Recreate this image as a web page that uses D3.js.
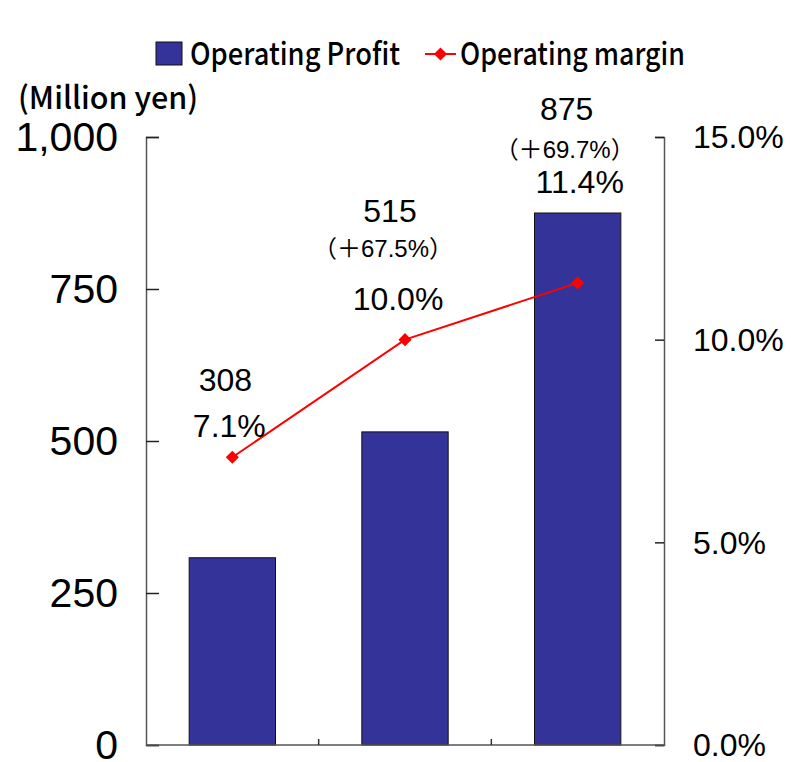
<!DOCTYPE html>
<html>
<head>
<meta charset="utf-8">
<script src="https://cdn.jsdelivr.net/npm/d3@7"></script>
<style>
  body { margin: 0; background: #fff; }
  svg text { font-family: "Liberation Sans", Arial, sans-serif; }
</style>
</head>
<body>
<div class="canva"></div>
<script>
// data
const periods = ["Period 1", "Period 2", "Period 3"];
const profit = [308, 515, 875];              // million yen
const margin = [7.1, 10.0, 11.4];            // %
const growth = [null, "67.5%", "69.7%"];     // year on year
const leftTicks = [0, 250, 500, 750, 1000];
const rightTicks = [0, 5, 10, 15];

const svg = d3.select(".canva").append("svg")
  .attr("width", 791)
  .attr("height", 762);

const plot = {left: 146, right: 664, top: 137, bottom: 745};

const x = d3.scaleBand().domain(periods)
  .range([plot.left, plot.right])
  .paddingInner(0.5).paddingOuter(0.25);
const yL = d3.scaleLinear().domain([0, 1000]).range([plot.bottom, plot.top]);
const yR = d3.scaleLinear().domain([0, 15]).range([plot.bottom, plot.top]);

// bars
svg.selectAll("rect.bar")
  .data(periods)
  .enter()
  .append("rect")
    .attr("class", "bar")
    .attr("x", d => x(d))
    .attr("width", x.bandwidth())
    .attr("y", (d, i) => yL(profit[i]))
    .attr("height", (d, i) => yL(0) - yL(profit[i]))
    .attr("fill", "#333399")
    .attr("stroke", "#111")
    .attr("stroke-width", 1);

// axes
const leftAxis = d3.axisRight(yL)
  .tickValues(leftTicks).tickSize(13).tickFormat("");
const gl = svg.append("g")
  .attr("transform", `translate(${plot.left},0)`)
  .call(leftAxis);

const rightAxis = d3.axisLeft(yR)
  .tickValues(rightTicks).tickSize(9).tickFormat("");
const gr = svg.append("g")
  .attr("transform", `translate(${plot.right},0)`)
  .call(rightAxis);

[gl, gr].forEach(g => {
  g.select(".domain").attr("stroke", "#555").attr("stroke-width", 1.5);
  g.selectAll(".tick line").attr("stroke", "#222").attr("stroke-width", 1.5);
});

// bottom axis with category boundary ticks
svg.append("line")
  .attr("x1", plot.left).attr("x2", plot.right)
  .attr("y1", plot.bottom).attr("y2", plot.bottom)
  .attr("stroke", "#555").attr("stroke-width", 1.5);
const bounds = d3.range(1, periods.length).map(i => plot.left + (plot.right - plot.left) * i / periods.length);
svg.selectAll("line.cat")
  .data(bounds)
  .enter()
  .append("line")
    .attr("class", "cat")
    .attr("x1", d => d).attr("x2", d => d)
    .attr("y1", plot.bottom).attr("y2", plot.bottom - 6)
    .attr("stroke", "#333").attr("stroke-width", 1.5);

// tick labels
svg.selectAll("text.lt")
  .data(leftTicks)
  .enter()
  .append("text")
    .attr("class", "lt")
    .attr("x", 118)
    .attr("y", d => yL(d))
    .attr("dy", "0.34em")
    .attr("text-anchor", "end")
    .attr("font-size", 41)
    .text(d => d3.format(",")(d));

svg.selectAll("text.rt")
  .data(rightTicks)
  .enter()
  .append("text")
    .attr("class", "rt")
    .attr("x", 693)
    .attr("y", d => yR(d))
    .attr("dy", "0.35em")
    .attr("font-size", 32)
    .text(d => d.toFixed(1) + "%");

// margin line
const cx = d => x(d) + x.bandwidth() / 2;
const line = d3.line()
  .x(d => cx(d))
  .y((d, i) => yR(margin[i]));
svg.append("path")
  .datum(periods)
  .attr("d", line)
  .attr("fill", "none")
  .attr("stroke", "#ff0000")
  .attr("stroke-width", 2);

const diamond = d3.symbol().type(d3.symbolDiamond2).size(110);
svg.selectAll("path.mk")
  .data(periods)
  .enter()
  .append("path")
    .attr("class", "mk")
    .attr("d", diamond)
    .attr("transform", (d, i) => `translate(${cx(d)},${yR(margin[i])})`)
    .attr("fill", "#ff0000");

// data labels (manually placed like the original)
const valOffset = [[-7, -66], [-15, -118], [-11, -163]];   // relative to marker
const growthOffset = [null, [-22, -83], [-13, -125]];
const pctOffset = [[-3, -20], [-7, -30], [2, -90]];

svg.selectAll("text.val")
  .data(periods)
  .enter()
  .append("text")
    .attr("class", "val")
    .attr("text-anchor", "middle")
    .attr("font-size", 32)
    .attr("x", (d, i) => cx(d) + valOffset[i][0])
    .attr("y", (d, i) => yR(margin[i]) + valOffset[i][1])
    .text((d, i) => profit[i]);

// growth: full-width brackets + narrow digits
const grText = svg.selectAll("text.gr")
  .data(periods.filter((d, i) => growth[i]))
  .enter()
  .append("text")
    .attr("class", "gr")
    .attr("text-anchor", "middle")
    .attr("x", d => cx(d) + growthOffset[periods.indexOf(d)][0])
    .attr("y", d => yR(margin[periods.indexOf(d)]) + growthOffset[periods.indexOf(d)][1]);
grText.append("tspan")
  .style("font-family", "'Noto Sans CJK JP', sans-serif")
  .attr("font-size", 24)
  .text("（＋");
grText.append("tspan")
  .attr("font-size", 24)
  .text(d => growth[periods.indexOf(d)]);
grText.append("tspan")
  .style("font-family", "'Noto Sans CJK JP', sans-serif")
  .attr("font-size", 24)
  .text("）");

svg.selectAll("text.pct")
  .data(periods)
  .enter()
  .append("text")
    .attr("class", "pct")
    .attr("text-anchor", "middle")
    .attr("font-size", 32)
    .attr("x", (d, i) => cx(d) + pctOffset[i][0])
    .attr("y", (d, i) => yR(margin[i]) + pctOffset[i][1])
    .text((d, i) => margin[i].toFixed(1) + "%");

// unit label
const monoFont = "'Noto Sans CJK JP', sans-serif";
svg.append("text")
  .attr("x", 18).attr("y", 109)
  .attr("font-size", 31)
  .attr("font-weight", 500)
  .style("font-family", monoFont)
  .attr("textLength", 180)
  .attr("lengthAdjust", "spacingAndGlyphs")
  .text("(Million yen)");

// legend
const legend = svg.append("g");
legend.append("rect")
  .attr("x", 156).attr("y", 42).attr("width", 26).attr("height", 23)
  .attr("fill", "#333399").attr("stroke", "#111").attr("stroke-width", 1);
legend.append("text")
  .attr("x", 190).attr("y", 65)
  .attr("font-size", 31)
  .attr("font-weight", 500)
  .style("font-family", monoFont)
  .attr("textLength", 210)
  .attr("lengthAdjust", "spacingAndGlyphs")
  .text("Operating Profit");
legend.append("line")
  .attr("x1", 425).attr("x2", 456).attr("y1", 54).attr("y2", 54)
  .attr("stroke", "#ff0000").attr("stroke-width", 2);
legend.append("path")
  .attr("d", diamond)
  .attr("transform", "translate(440.5,54)")
  .attr("fill", "#ff0000");
legend.append("text")
  .attr("x", 460).attr("y", 65)
  .attr("font-size", 31)
  .attr("font-weight", 500)
  .style("font-family", monoFont)
  .attr("textLength", 225)
  .attr("lengthAdjust", "spacingAndGlyphs")
  .text("Operating margin");
</script>
</body>
</html>
